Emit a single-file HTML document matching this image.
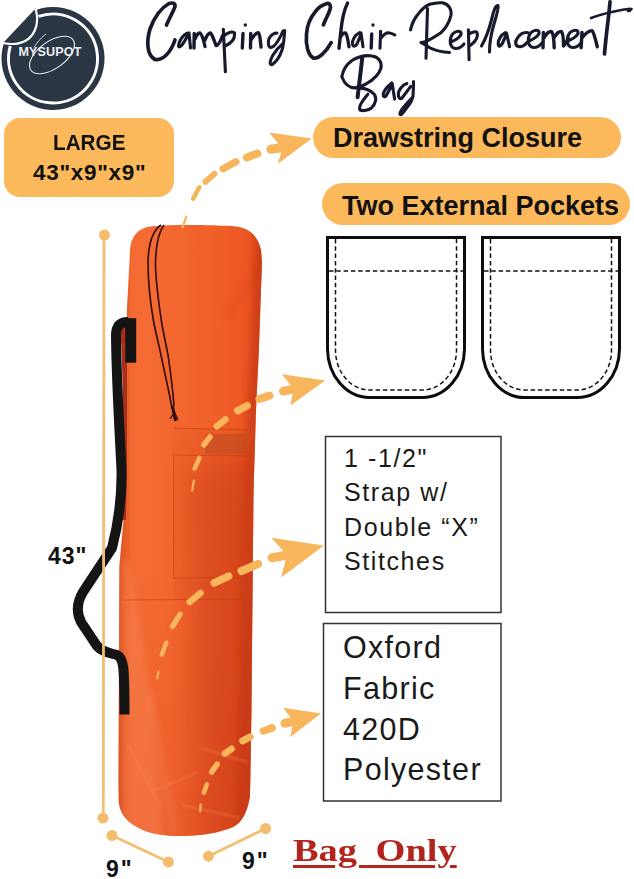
<!DOCTYPE html>
<html><head><meta charset="utf-8">
<style>
html,body{margin:0;padding:0;background:#fff;}
body{width:634px;height:879px;position:relative;overflow:hidden;font-family:"Liberation Sans",sans-serif;}
.abs{position:absolute;}
.pillt{position:absolute;font-weight:bold;color:#111;white-space:nowrap;line-height:1;}
.boxt{position:absolute;color:#1a1a1a;white-space:nowrap;}
svg{position:absolute;left:0;top:0;}
</style></head>
<body>
<svg width="634" height="879" viewBox="0 0 634 879">
  <defs>
    <linearGradient id="bagg" x1="118" y1="0" x2="262" y2="0" gradientUnits="userSpaceOnUse">
      <stop offset="0" stop-color="#f06028"/>
      <stop offset="0.12" stop-color="#f46c34"/>
      <stop offset="0.4" stop-color="#f3672f"/>
      <stop offset="0.7" stop-color="#f05e28"/>
      <stop offset="0.9" stop-color="#ec5622"/>
      <stop offset="1" stop-color="#e04a1a"/>
    </linearGradient>
    <linearGradient id="bagv" x1="0" y1="224" x2="0" y2="838" gradientUnits="userSpaceOnUse">
      <stop offset="0" stop-color="#ff8040" stop-opacity="0"/>
      <stop offset="0.55" stop-color="#d8401a" stop-opacity="0"/>
      <stop offset="1" stop-color="#d8401a" stop-opacity="0.25"/>
    </linearGradient>
    <linearGradient id="bagr" x1="244" y1="0" x2="264" y2="0" gradientUnits="userSpaceOnUse">
      <stop offset="0" stop-color="#c8401a" stop-opacity="0"/>
      <stop offset="1" stop-color="#c23a18" stop-opacity="0.8"/>
    </linearGradient>
    <linearGradient id="bagl" x1="114" y1="0" x2="132" y2="0" gradientUnits="userSpaceOnUse">
      <stop offset="0" stop-color="#c8401a" stop-opacity="0.6"/>
      <stop offset="1" stop-color="#c8401a" stop-opacity="0"/>
    </linearGradient>
    <filter id="blur3" x="-20%" y="-20%" width="140%" height="140%"><feGaussianBlur stdDeviation="3"/></filter>
    <filter id="blur15" x="-50%" y="-50%" width="200%" height="200%"><feGaussianBlur stdDeviation="14"/></filter>
    <filter id="blur1" x="-20%" y="-20%" width="140%" height="140%"><feGaussianBlur stdDeviation="1"/></filter>
  </defs>
  <!-- logo -->
  <path d="M36 9.9 A51.5 51.5 0 1 1 3.9 43 Z" fill="#2a3644"/>
  <path d="M36 8 C39 20 37 33 26 40 C19 44 10 44 3.5 42.5 Z" fill="#2a3644"/>
  <path d="M38.5 16.4 A44.5 44.5 0 1 1 10.3 46" fill="none" stroke="#fff" stroke-width="3"/>
  <path d="M35.5 8.5 C39 20 37 34 26 40.5 C19 44.5 10 44.5 3 43" fill="none" stroke="#fff" stroke-width="2.2"/>
  <ellipse cx="52" cy="55" rx="26" ry="13.5" transform="rotate(-36 52 55)" fill="none" stroke="#e8ecf0" stroke-width="1.1"/>
  <path d="M34 47.5 C38 41 42 37 46 34" fill="none" stroke="#e8ecf0" stroke-width="0.9"/>

  <!-- LARGE box -->
  <rect x="4" y="118" width="170" height="79" rx="16" fill="#fbb95b"/>
  <!-- pills -->
  <rect x="313" y="117" width="308" height="41" rx="20.5" fill="#fbb95b"/>
  <rect x="322" y="183" width="308" height="42" rx="21" fill="#fbb95b"/>

  <!-- pockets -->
  <g fill="none" stroke="#0d0d0d" stroke-width="3">
    <path d="M327.5 237.5 H464.5 V349 A42 49 0 0 1 422.5 397.5 H369.5 A42 49 0 0 1 327.5 349 Z"/>
    <path d="M482.5 237.5 H619.5 V349 A42 49 0 0 1 577.5 397.5 H524.5 A42 49 0 0 1 482.5 349 Z"/>
  </g>
  <g fill="none" stroke="#111" stroke-width="1.5" stroke-dasharray="4.5 2.8">
    <path d="M335.5 239 V350 A34 40 0 0 0 369.5 390 H422.5 A34 40 0 0 0 456.5 350 V239"/>
    <path d="M329 271 H463"/>
    <path d="M490.5 239 V350 A34 40 0 0 0 524.5 390 H577.5 A34 40 0 0 0 611.5 350 V239"/>
    <path d="M484 271 H618"/>
  </g>

  <!-- text boxes -->
  <rect x="325.5" y="436.5" width="175.5" height="176" fill="none" stroke="#333" stroke-width="1.5"/>
  <rect x="323.5" y="623.5" width="177.5" height="177.5" fill="none" stroke="#333" stroke-width="1.5"/>

  <!-- bag -->
  <clipPath id="bagclip"><path d="M129.5 262 L130 249 C131 237 138 228 150 226.5 C175 224 210 225 232 226 C247 227 257 233 261 250 L262 262 L259 347 L256 411 L253.5 491 L253 545 L251.4 713 L250 796 C247 815 240 826 228 829 C210 835 195 836 180 836 C165 836 155 834 148 832 C132 826 121 818 118.8 803 L118.5 781 L119.4 566 L125 503 L125 397 L127 308 Z"/></clipPath>
  <g clip-path="url(#bagclip)">
    <rect x="110" y="220" width="160" height="625" fill="url(#bagg)"/>
    <rect x="110" y="220" width="160" height="625" fill="url(#bagv)"/>
    <!-- lower right darkening -->
    <path d="M190 470 L270 450 L270 845 L200 845 Z" fill="#b02808" opacity="0.32" filter="url(#blur15)"/>
    <!-- right dark band -->
    <path d="M256 220 L270 220 L270 845 L236 845 L240 560 Z" fill="#c03414" opacity="0.55" filter="url(#blur3)"/>
    <!-- left dark band -->
    <rect x="114" y="220" width="16" height="625" fill="url(#bagl)"/>
    <!-- lower left highlight -->
    <path d="M128 560 C140 600 152 700 165 840 L122 840 L122 560 Z" fill="#f98a58" opacity="0.4" filter="url(#blur3)"/>
    <path d="M150 690 C155 730 165 780 175 835" stroke="#f9a070" stroke-width="6" opacity="0.25" fill="none" filter="url(#blur3)"/>
    <path d="M262 265 C250 280 240 295 228 318" stroke="#c83c14" stroke-width="5" opacity="0.25" fill="none" filter="url(#blur3)"/>
    <!-- top rim shading -->
    <!-- pocket panel darker -->
    <rect x="174" y="428" width="80" height="172" fill="#d9501c" opacity="0.18"/>
    <!-- bottom wrinkles -->
    <g stroke="#f98c5a" stroke-width="2" opacity="0.4" fill="none" filter="url(#blur1)">
      <path d="M128 745 L160 805"/><path d="M150 792 L198 772"/><path d="M182 805 L240 818"/><path d="M200 748 L248 762"/>
    </g>
  </g>
  <!-- pocket on bag -->
  <g fill="none" stroke="#c04010" stroke-width="1" opacity="0.6">
    <path d="M174 428 L249 430"/>
    <path d="M174 455 L252 456"/>
    <path d="M173.6 452 L173.6 579"/>
    <path d="M125 600 L252 599"/>
    <path d="M174 578 L252 577"/>
  </g>
  <rect x="205" y="434" width="42" height="20" fill="#b84a20" opacity="0.5"/>
  <!-- drawstring -->
  <g fill="none" stroke="#2e0c0a" stroke-width="1.6">
    <path d="M161 225 C152 231 148.5 245 148 262 C148 280 150 300 153 318 C156 335 159 345 161 355 C165 375 170 395 172 409"/>
    <path d="M164 225 C158 233 155.5 250 155.5 266 C156 285 159 305 162 325 C164 335 166 345 168 355 C171 375 173 392 174 406"/>
    <path d="M172.5 406 L175.5 421" stroke-width="3"/>
    <path d="M174 413 L170 419 M175 413 L178 420" stroke-width="1.2"/>
  </g>
  <!-- strap -->
  <path d="M119.5 326 C121 330 122 360 122.5 380 L124 470 L122 520 L126 520 L127 470 L127 326 Z" fill="#a8301a"/>
  <g fill="none" stroke="#141414" stroke-linejoin="round" stroke-linecap="butt">
    <path d="M128 322 C120 322 116 326 116 336 C116.5 380 119 420 121.5 470 C122 500 118 525 112 548 L83 592 C77 602 76 612 81 622 L97 646 C102 652 110 653 117 655 C123.5 658 124.5 665 124.5 714.5" stroke-width="10"/>
  </g>
  <rect x="125.3" y="318.2" width="10.9" height="44.5" fill="#141414"/>
  <!-- measurement lines -->
  <g stroke="#f2bf74" stroke-width="2.8" fill="#f4bd6e">
    <line x1="104" y1="235" x2="103.3" y2="817"/>
    <line x1="112" y1="835.4" x2="168.5" y2="862"/>
    <line x1="208.4" y1="856.2" x2="265.6" y2="828.5"/>
    <circle cx="104.5" cy="235" r="5.5" stroke="none"/>
    <circle cx="103" cy="818" r="5.5" stroke="none"/>
    <circle cx="112" cy="835.4" r="5.5" stroke="none"/>
    <circle cx="168.5" cy="862" r="5.5" stroke="none"/>
    <circle cx="208.4" cy="856.2" r="5.5" stroke="none"/>
    <circle cx="265.6" cy="828.5" r="5.5" stroke="none"/>
  </g>

  <g fill="#f7b55c" stroke="#f7b55c" stroke-linecap="round"><path d="M182.7 227.3 L186.3 216.7" stroke-width="2.2"/><path d="M193.2 198.7 L199.3 187.3" stroke-width="4.5"/><path d="M205.5 181.7 L214.5 173.8" stroke-width="6"/><path d="M223.0 168.9 L236.0 161.6" stroke-width="7"/><path d="M246.8 157.4 L257.4 153.6" stroke-width="8"/><path d="M311.7 138.5 L269.1 132.5 L277.6 142.7 L281.2 152.7 L277.6 164 Z" stroke="none"/><path d="M270.8 149.2 L281.4 147.7" stroke-width="9"/><path d="M192.1 490.3 L193.9 480.7" stroke-width="2.2"/><path d="M194.6 468.6 L199.4 457.9" stroke-width="4.5"/><path d="M203.9 444.9 L209.9 437.0" stroke-width="5.5"/><path d="M216.9 426.3 L225.5 419.4" stroke-width="6.5"/><path d="M237.8 410.6 L247.1 405.7" stroke-width="7.5"/><path d="M259.5 399.0 L269.5 395.6" stroke-width="8"/><path d="M325.2 380.6 L281.9 374.2 L290.4 384.8 L292.6 393.4 L290.4 405.4 Z" stroke="none"/><path d="M283.5 391.1 L293.5 389.1" stroke-width="9"/><path d="M157.3 678.3 L158.5 671.7" stroke-width="2.2"/><path d="M161.8 654.8 L166.3 642.7" stroke-width="4.5"/><path d="M172.5 626.4 L180.0 614.4" stroke-width="5.5"/><path d="M189.7 602.0 L200.6 593.0" stroke-width="6.5"/><path d="M214.3 582.9 L228.7 576.1" stroke-width="7.5"/><path d="M241.5 571.0 L258.1 564.0" stroke-width="8"/><path d="M323.8 545.6 L271.2 537.8 L282.6 550 L285.5 560.5 L281.2 577.6 Z" stroke="none"/><path d="M272.1 557.7 L286.1 555.2" stroke-width="9"/><path d="M200.2 811.3 L200.6 804.7" stroke-width="2.2"/><path d="M203.9 792.6 L206.9 784.4" stroke-width="4.5"/><path d="M211.6 772.1 L217.3 764.1" stroke-width="5.5"/><path d="M224.9 753.5 L231.6 748.8" stroke-width="6.5"/><path d="M242.6 740.9 L250.2 736.9" stroke-width="7"/><path d="M263.4 731.0 L272.0 727.9" stroke-width="7.5"/><path d="M320.9 713.5 L283.3 707.8 L290.4 717.7 L292.5 725.5 L290.4 736.9 Z" stroke="none"/><path d="M284.9 723.2 L293.4 721.6" stroke-width="9"/></g>

<g fill="none" stroke="#161a2c" stroke-width="3.1" stroke-linecap="round" stroke-linejoin="round">
 <!-- C -->
 <path d="M166.5 25 C170 17 174 10 175 6.5 C175.5 3 172 2.5 169 3.5 C161 8 154 18 150 29 C146.5 41 146.5 55 155 59.5 C163 61 171 52 175 40" stroke-width="3.7"/>
 <!-- a -->
 <path d="M188 33 C183 34 178.5 42 178.5 46 C179 48.5 182 47 189 33 M189 33 L190.5 48"/>
 <!-- m -->
 <path d="M194.2 33.5 L194 48 M195 39 C197 34 199 32.7 200 33 C202 34 204 42 205 46.5 M205 40 C207 35 209 33 210.5 33 C212 34 214 40 216 45.5 C218 46 221 40 223 35" stroke-width="3.4"/>
 <!-- p -->
 <path d="M223.3 29.2 L225.4 71.8 M224 36 C228 32 233 31 234.6 33 C235 38 232 43 225 46"/>
 <!-- i -->
 <path d="M243 33.5 L242.3 48" stroke-width="3.4"/>
 <!-- n -->
 <path d="M250.7 33.5 L250.5 48 M251 40 C254 35 257 32.7 258.5 32.7 C260 34 260.5 42 261 47" stroke-width="3.4"/>
 <!-- g -->
 <path d="M277 33 C272 33 268 38 268.4 43 C268.5 48 271 48.4 274 46 C277 43 280 38 283 31 M284.7 30.6 C284 38 284 44 282 50 C280 56 276 62 272 64.7 C269 65 270 60 273 55 C276 50 280 46 283 43.4"/>
 <!-- C Chair -->
 <path d="M323.4 24.8 C326 18 330 12 330.5 7 C330 3 328 3 327 3.5 C322 5 318 8 315.6 11.4 C310 18 307 26 306.5 34 C305.5 45 308 55 313.5 58.2 C319 59 326 52 331.2 42.6" stroke-width="3.7"/>
 <!-- h -->
 <path d="M347.6 3 C344 10 342 20 341 30 L339 48.3 M340.5 37 C342 34 344 32.7 345.5 33 C347 34 348 40 349 46.8" stroke-width="3.4"/>
 <!-- a -->
 <path d="M359.6 32.7 C355 35 352 40 352.5 44 C353 47 355 46.8 357 44 L361 34 M361 33 L363 46.8"/>
 <!-- i -->
 <path d="M371.7 34 L371.2 48" stroke-width="3.4"/>
 <!-- r -->
 <path d="M380.6 31.2 L380 48.3 M381 38 C384 34 386 32.7 388.5 32.7 C391 33 393 34 394.8 34.8"/>
 <!-- R -->
 <path d="M410.5 29.8 C412 24 414 19 417 15.6 C421 10 425 6 429.6 4.3 C434 3 439 2.5 442.4 2.8 C449 4 452 10 450.9 15.6 C449 23 446 28 441 32.7 C436 36 431 39 426.8 41.2 C424 42 422 42.5 421 42.6 M427.5 8.5 C427 25 426.5 42 426 58.2 M421 42.6 C425 44 428 47 431 48.3 C437 51 443 52 449.5 52.5"/>
 <!-- e -->
 <path d="M451 42 C456 40 462 36 461 33 C460 30 453 31 451 37 C449 43 451 48.5 456 48.5 C459 48.5 462 46.5 464 44"/>
 <!-- p -->
 <path d="M468.4 29.8 L469.1 59.6 M469 34 C472 32 476 31 477 32.5 C478.5 36 476 41 470.5 45.4"/>
 <!-- l -->
 <path d="M481.5 46 C485 40 489 30 492 18 C494 9 496 5 498 5.5 C499 7 497 14 494 24 C491 34 489.5 43 489.5 52"/>
 <!-- a -->
 <path d="M505.3 32.7 C501 35 498 40 498.2 43.5 C498.5 47 500 46.8 502 44 L506.7 34 M506.5 33 L509.6 46.8"/>
 <!-- c -->
 <path d="M528 32.7 C524 32 520 34 517.5 38 C514.5 42 515 46 519.5 46.8 C522 47 525 45 527 42.6"/>
 <!-- e -->
 <path d="M529 41 C534 39 540 35 539 32 C538 29 531 30 529 36 C527 42 529 47.5 534 47.5 C537 47.5 540 45.5 542 43"/>
 <!-- m -->
 <path d="M543.4 32.4 L543 47.7 M544 38 C546 34 549 31.5 551.5 31.5 C553 33 554 40 554.2 47.7 M554 38 C556 34 559 31.5 561.4 31.5 C563 33 563.5 40 563.5 46 C565 44 567 41 568.6 38.7" stroke-width="3.4"/>
 <!-- e -->
 <path d="M568 41 C573 39 579 35 578 32 C577 29 570 30 568 36 C566 42 568 47.5 573 47.5 C576 47.5 579 45.5 581 43"/>
 <!-- n -->
 <path d="M582 32.4 L581.1 47.7 M582 38 C585 34 589 30.6 592 30.6 C594 32 596 42 597.3 46.8" stroke-width="3.4"/>
 <!-- t -->
 <path d="M610 1.8 C609 15 606 35 604.5 54" stroke-width="3.7"/>
 <path d="M591 18 C602 14 615 11 624 9.5 C628 9 631 8.5 631.5 9 C631 10 630 11 628 11" stroke-width="2.6"/>
 <!-- B -->
 <path d="M362.3 57.1 C361 70 359 85 357.6 97.3" stroke-width="4"/>
 <path d="M341.8 76.8 C343 70 347 64 352 60.5 C358 57 366 55 372 56 C379 57 382 62 381 68 C379 75 373 80 366 84 C362 86 358 87.5 355 87.9 C350 88 345 85 341.8 76.8 M358.4 87.9 C364 88 370 90 374 94 C377 98 376 104 371 108.4 C367 111 362 111 360 110 C358 107 362 101 367.9 94.2"/>
 <!-- a -->
 <path d="M391.8 83 C388 86 384 91 383.2 94 C383 97 385 97.2 386 96 L391.8 85.4 M392.2 83.5 L394.6 99.1"/>
 <!-- g -->
 <path d="M406.9 83.5 C402 85 399 90 398.4 93 C398 98 400 99.6 402 98 L410.7 86.4 M413.5 81.6 C413.5 88 413.3 92 413 95.8 C412 100 410 104 407.9 106.2 C405 110 403 113 401.2 114.7 C399 115 400 112 402.2 109 C406 104 410 100 413 96.8"/>
</g>
<g fill="#161a2c">
 <circle cx="245.3" cy="25" r="1.7"/>
 <circle cx="373" cy="25" r="1.7"/>
</g>

</svg>

<!-- logo text -->
<div class="abs" style="left:18.5px;top:46px;color:#eceef2;font-weight:bold;font-size:12.6px;letter-spacing:0.1px;line-height:1;">MYSUPOT</div>

<!-- pill texts -->
<div class="pillt" style="left:53px;top:132px;font-size:22.5px;transform:scaleX(0.92);transform-origin:0 0;">LARGE</div>
<div class="pillt" style="left:33px;top:162px;font-size:22.5px;letter-spacing:0.7px;">43"x9"x9"</div>
<div class="pillt" style="left:333px;top:125px;font-size:27px;">Drawstring Closure</div>
<div class="pillt" style="left:342px;top:193px;font-size:27px;">Two External Pockets</div>

<div class="boxt" style="left:344px;top:440.5px;font-size:25px;line-height:34.6px;letter-spacing:1.6px;">1 -1/2"<br>Strap w/<br>Double “X”<br>Stitches</div>
<div class="boxt" style="left:343px;top:627px;font-size:30.5px;line-height:40.8px;letter-spacing:1.3px;">Oxford<br>Fabric<br>420D<br>Polyester</div>

<div class="pillt" style="left:48px;top:545px;font-size:23px;letter-spacing:1px;">43"</div>
<div class="pillt" style="left:106px;top:858px;font-size:23px;letter-spacing:2px;">9"</div>
<div class="pillt" style="left:242px;top:849.5px;font-size:23px;letter-spacing:2px;">9"</div>

<div class="abs" style="left:293px;top:833px;font-family:'Liberation Serif',serif;font-weight:bold;font-size:32px;line-height:1.1;color:#b3241d;white-space:nowrap;text-decoration:underline;text-decoration-thickness:3px;text-underline-offset:4px;transform:scaleX(1.2);word-spacing:7.5px;transform-origin:0 0;">Bag Only</div>
</body></html>
